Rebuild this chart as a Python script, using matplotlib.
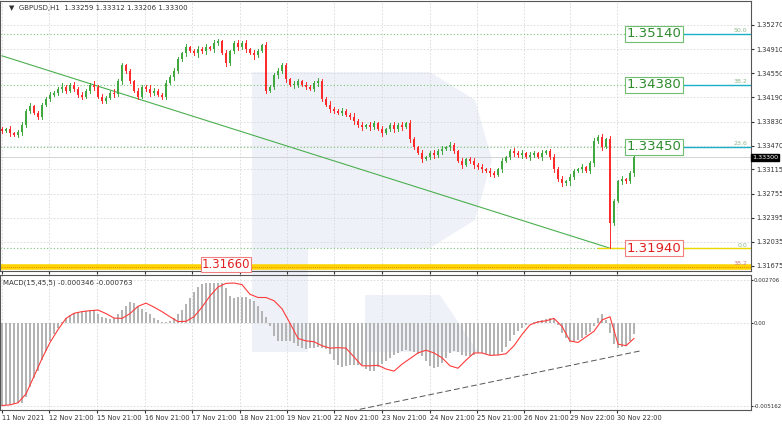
import numpy as np
import matplotlib.pyplot as plt
from matplotlib.patches import Rectangle, Polygon

# ---- data ----
closes = [1.3369, 1.3372, 1.3366, 1.3363, 1.3368, 1.3378, 1.3399, 1.3406, 1.3396, 1.3390,
          1.3408, 1.3417, 1.3423, 1.3426, 1.3432, 1.3435, 1.3429, 1.3438, 1.3432, 1.3423,
          1.3420, 1.3429, 1.3438, 1.3435, 1.3420, 1.3414, 1.3418, 1.3426, 1.3424, 1.3443,
          1.3467, 1.3458, 1.3443, 1.3429, 1.3420, 1.3435, 1.3432, 1.3426, 1.3429, 1.3423,
          1.3420, 1.3441, 1.3450, 1.3458, 1.3476, 1.3485, 1.3494, 1.3488, 1.3485, 1.3491,
          1.3488, 1.3494, 1.3491, 1.3500, 1.3503, 1.3485, 1.3470, 1.3488, 1.3500, 1.3494,
          1.3500, 1.3491, 1.3485, 1.3482, 1.3488, 1.3497, 1.3429, 1.3435, 1.3453, 1.3458,
          1.3467, 1.3446, 1.3438, 1.3438, 1.3443, 1.3438, 1.3435, 1.3432, 1.3441, 1.3443,
          1.3417, 1.3408, 1.3402, 1.3399, 1.3396, 1.3399, 1.3393, 1.3390, 1.3384, 1.3378,
          1.3375, 1.3378, 1.3375, 1.3381, 1.3372, 1.3366, 1.3372, 1.3378, 1.3372, 1.3378,
          1.3375, 1.3381, 1.3357, 1.3345, 1.3336, 1.3327, 1.3330, 1.3336, 1.3333, 1.3339,
          1.3342, 1.3345, 1.3348, 1.3339, 1.3324, 1.3318, 1.3327, 1.3324, 1.3318, 1.3315,
          1.3312, 1.3309, 1.3306, 1.3303, 1.3312, 1.3324, 1.3330, 1.3339, 1.3336, 1.3333,
          1.3336, 1.3330, 1.3333, 1.3336, 1.3330, 1.3336, 1.3339, 1.3330, 1.3312, 1.3297,
          1.3291, 1.3294, 1.3300, 1.3309, 1.3312, 1.3315, 1.3309, 1.3321, 1.3354, 1.3360,
          1.3345, 1.3357, 1.3232, 1.3265, 1.3294, 1.3297, 1.3294, 1.3306, 1.3330]
open0 = 1.3372
# wick length in pips per candle
wicks = ("3242353423324235324342352432534232423542"
         "3425324235342532423534253242353425324235"
         "4253242353425324235342532423534253242353"
         "4253242353425324235342532423534253242353")
spike_idx, spike_low = 152, 1.3194

macd_hist = [-0.00516, -0.00512, -0.00508, -0.00504, -0.00498, -0.00494, -0.00460, -0.00400, -0.00340, -0.00295,
             -0.00230, -0.00170, -0.00110, -0.00070, -0.00030, 0.00005, 0.00032, 0.00050, 0.00062, 0.00070,
             0.00072, 0.00078, 0.00085, 0.00082, 0.00060, 0.00040, 0.00030, 0.00028, 0.00035, 0.00060,
             0.00085, 0.00110, 0.00130, 0.00128, 0.00110, 0.00090, 0.00072, 0.00055, 0.00035, 0.00018,
             0.00006, 0.00008, 0.00015, 0.00030, 0.00055, 0.00085, 0.00118, 0.00155, 0.00195, 0.00225,
             0.00241, 0.00248, 0.00250, 0.00251, 0.00251, 0.00248, 0.00220, 0.00170, 0.00155, 0.00160,
             0.00162, 0.00160, 0.00150, 0.00138, 0.00110, 0.00075, 0.00040, -0.00020, -0.00080, -0.00110,
             -0.00112, -0.00110, -0.00112, -0.00125, -0.00140, -0.00152, -0.00158, -0.00156, -0.00152, -0.00150,
             -0.00155, -0.00160, -0.00190, -0.00230, -0.00262, -0.00272, -0.00268, -0.00262, -0.00260, -0.00258,
             -0.00262, -0.00285, -0.00300, -0.00298, -0.00275, -0.00255, -0.00235, -0.00218, -0.00200, -0.00185,
             -0.00170, -0.00164, -0.00170, -0.00180, -0.00192, -0.00205, -0.00235, -0.00265, -0.00280, -0.00275,
             -0.00250, -0.00215, -0.00185, -0.00175, -0.00182, -0.00198, -0.00207, -0.00205, -0.00195, -0.00188,
             -0.00185, -0.00190, -0.00195, -0.00198, -0.00196, -0.00180, -0.00150, -0.00110, -0.00075, -0.00050,
             -0.00030, -0.00012, 0.00003, 0.00010, 0.00012, 0.00018, 0.00026, 0.00035, 0.00028, -0.00010,
             -0.00060, -0.00095, -0.00118, -0.00120, -0.00105, -0.00090, -0.00075, -0.00055, -0.00020, 0.00030,
             0.00060, 0.00020, -0.00060, -0.00130, -0.00155, -0.00150, -0.00140, -0.00110, -0.00070]
# signal line, one point every second bar
macd_signal = [-0.00512, -0.00508, -0.00495, -0.00440, -0.00330, -0.00220, -0.00120, -0.00040, 0.00030, 0.00062,
               0.00072, 0.00078, 0.00082, 0.00060, 0.00032, 0.00030, 0.00060, 0.00105, 0.00125, 0.00100,
               0.00072, 0.00040, 0.00010, 0.00012, 0.00040, 0.00100, 0.00170, 0.00225, 0.00248, 0.00250,
               0.00240, 0.00180, 0.00160, 0.00160, 0.00140, 0.00090, 0.00000, -0.00095, -0.00110, -0.00115,
               -0.00140, -0.00155, -0.00152, -0.00155, -0.00210, -0.00265, -0.00265, -0.00262, -0.00285, -0.00298,
               -0.00255, -0.00220, -0.00185, -0.00168, -0.00185, -0.00215, -0.00265, -0.00280, -0.00230, -0.00185,
               -0.00185, -0.00200, -0.00198, -0.00190, -0.00140, -0.00070, -0.00010, 0.00008, 0.00015, 0.00030,
               -0.00020, -0.00110, -0.00120, -0.00085, -0.00050, 0.00020, 0.00040, -0.00130, -0.00140, -0.00095]

fib_levels = [1.3514, 1.3438, 1.3345, 1.3194]
fib_names = ["50.0", "38.2", "23.6", "0.0"]
support = 1.3166
last_price = 1.3330
price_ticks = [1.35270, 1.34910, 1.34550, 1.34190, 1.33830, 1.33470, 1.33115, 1.32755, 1.32395, 1.32035, 1.31675]
date_pos = [0, 47, 95, 143, 190, 238, 285, 332, 380, 428, 475, 522, 568, 615]  # pixels
date_labels = ["11 Nov 2021", "12 Nov 21:00", "15 Nov 21:00", "16 Nov 21:00", "17 Nov 21:00",
               "18 Nov 21:00", "19 Nov 21:00", "22 Nov 21:00", "23 Nov 21:00", "24 Nov 21:00",
               "25 Nov 21:00", "26 Nov 21:00", "29 Nov 22:00", "30 Nov 22:00"]
trend_price = [(0, 1.3481), (152, 1.3194)]
trend_macd = [(83, -0.00569), (160, -0.00170)]

GREEN = "#3fa83f"
RED = "#ff2a2a"
GRID = "#d8d8d8"

fig = plt.figure(figsize=(7.82, 4.24), dpi=100)
W, H = 782, 424

# faint watermark logo behind the panels
def px(x, y):
    return (x / W, 1 - y / H)
wm = "#eef2f8"
for pts in ([px(252, 72), px(308, 72), px(308, 352), px(252, 352)],
            [px(308, 72), px(430, 72), px(475, 100), px(492, 160), px(475, 220),
             px(430, 248), px(308, 248)],
            [px(365, 295), px(440, 295), px(478, 352), px(365, 352)]):
    fig.patches.append(Polygon(pts, closed=True, fc=wm, ec="none",
                               transform=fig.transFigure, zorder=-5))

ax = fig.add_axes([0, 1 - 271 / H, 751 / W, 270 / H])
ax2 = fig.add_axes([0, 1 - 410 / H, 751 / W, 135 / H])
xmax = 751 / 4 - 0.5
dx = [p / 4 for p in date_pos]

for a in (ax, ax2):
    a.set_facecolor("none")
    a.set_xlim(-0.5, xmax)
    a.set_xticks(dx)
    a.grid(True, color=GRID, linestyle=(0, (2, 2)), linewidth=0.6)
    a.yaxis.tick_right()
    a.tick_params(axis="both", labelsize=4.8, length=2, pad=1.5, colors="#333333")
    for s in a.spines.values():
        s.set_color("#555555")
        s.set_linewidth(0.8)
    a.set_axisbelow(True)
ax2.tick_params(axis="y", labelsize=4.0, pad=0.5, length=1.5)

# price panel
ax.set_ylim(1.3160, 1.35628)
ax.set_yticks(price_ticks)
ax.set_yticklabels([f"{p:.5f}" for p in price_ticks])
ax.set_xticklabels([])

opens = [open0] + closes[:-1]
for i, (o, c) in enumerate(zip(opens, closes)):
    w = int(wicks[i]) * 0.0001
    hi = max(o, c) + w
    lo = min(o, c) - w
    if i == spike_idx:
        lo = spike_low
    col = GREEN if c >= o else RED
    ax.plot([i, i], [lo, hi], color=col, lw=0.7, zorder=3)
    ax.add_patch(Rectangle((i - 0.3, min(o, c)), 0.6, max(abs(c - o), 0.00004),
                           color=col, zorder=3, lw=0))

ax.plot([p[0] for p in trend_price], [p[1] for p in trend_price], color="#4caf50", lw=0.8, zorder=2)

for lvl, nm in zip(fib_levels, fib_names):
    ax.axhline(lvl, color="#7cc47c", lw=0.8, linestyle=(0, (1, 2)), zorder=2)
    ax.text(xmax - 1, lvl + 0.0001, nm, fontsize=4.5, color="#8ab88a", ha="right", va="bottom")
for lvl in fib_levels[:3]:
    ax.plot([157.5, xmax], [lvl, lvl], color="#19b0c8", lw=1.0, zorder=2)
    ax.text(163, lvl, f"{lvl:.5f}", fontsize=9.5, color="#2e8b2e", ha="center", va="center",
            bbox=dict(boxstyle="square,pad=0.12", fc="white", ec="#6fbf6f", lw=0.8), zorder=5)
ax.plot([149, xmax], [fib_levels[3]] * 2, color="#e8d800", lw=1.0, zorder=2)
ax.text(163, fib_levels[3], f"{fib_levels[3]:.5f}", fontsize=9.5, color="#e02020", ha="center",
        va="center", bbox=dict(boxstyle="square,pad=0.12", fc="white", ec="#f08080", lw=0.8), zorder=5)

ax.axhline(support, color="#ffd400", lw=4, zorder=2)
ax.axhline(support, color="#e07000", lw=0.6, linestyle=(0, (1, 1.5)), zorder=2)
ax.text(xmax - 1, support + 0.0001, "38.2", fontsize=4.5, color="#d08080", ha="right", va="bottom")
ax.text(56, support + 0.0004, f"{support:.5f}", fontsize=8.5, color="#e02020", ha="center",
        va="center", bbox=dict(boxstyle="square,pad=0.1", fc="white", ec="#f08080", lw=0.8), zorder=5)

ax.axhline(last_price, color="#cccccc", lw=0.6, zorder=1)
ax.annotate(f"{last_price:.5f}", xy=(1.0, last_price), xycoords=("axes fraction", "data"),
            xytext=(1, 0), textcoords="offset points", fontsize=4.6, color="white", va="center",
            ha="left", bbox=dict(boxstyle="square,pad=0.15", fc="black", ec="black"),
            annotation_clip=False)
ax.text(0.012, 0.985, "\u25BC  GBPUSD,H1  1.33259 1.33312 1.33206 1.33300", transform=ax.transAxes,
        fontsize=5, color="#333333", va="top")

# macd panel
ax2.set_ylim(-0.0054, 0.0030)
ax2.set_yticks([0.002706, 0.0, -0.005162])
ax2.set_yticklabels(["0.002706", "0.00", "-0.005162"])
ax2.set_xticklabels(date_labels, ha="left")
ax2.bar(np.arange(len(macd_hist)), macd_hist, width=0.5, color="#b4b4b4", zorder=2)
ax2.plot(np.arange(len(macd_signal)) * 2, macd_signal, color="#ff3b3b", lw=0.8, zorder=3)
ax2.plot([p[0] for p in trend_macd], [p[1] for p in trend_macd], color="#555555", lw=0.7,
         linestyle=(0, (6, 3)), zorder=3)
ax2.text(0.004, 0.97, "MACD(15,45,5) -0.000346 -0.000763", transform=ax2.transAxes,
         fontsize=5, color="#333333", va="top")

fig.savefig("out.png", dpi=100)
